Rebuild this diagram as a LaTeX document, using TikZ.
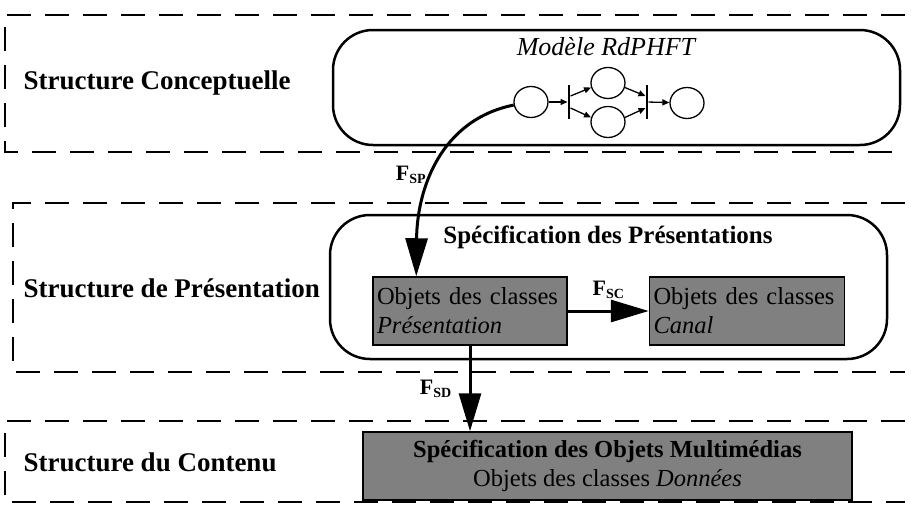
\documentclass[tikz,border=0pt]{standalone}
\usepackage{fontspec}
\setmainfont{Liberation Serif}
\usetikzlibrary{arrows.meta,positioning,shapes.geometric}
\tikzset{
  lane/.style ={draw=black,line width=2pt,dash pattern=on 24pt off 14pt},
  cont/.style ={draw=black,line width=2.5pt,rounded corners=40pt,inner sep=0pt},
  obj/.style  ={draw=black,line width=1.5pt,fill=black!50,align=left,inner sep=4pt,
                font=\fontsize{24.5}{29}\selectfont},
  lbl/.style  ={anchor=west,font=\fontsize{27}{30}\selectfont\bfseries},
  ttl/.style  ={font=\fontsize{25}{30}\selectfont},
  plc/.style  ={ellipse,draw=black,line width=1.3pt,minimum width=34pt,
                minimum height=31pt,inner sep=0pt},
  trn/.style  ={fill=black,minimum width=2.6pt,minimum height=34pt,inner sep=0pt},
  pa/.style   ={-{Triangle[length=7pt,width=6pt]},line width=1.3pt},
  a/.style    ={-{Triangle[length=38pt,width=22pt]},line width=3pt},
  fl/.style   ={font=\fontsize{22}{22}\selectfont\bfseries},
}
\newcommand{\flab}[1]{F\raisebox{-0.3ex}{\fontsize{14}{14}\selectfont #1}}

\begin{document}
\begin{tikzpicture}[x=1pt,y=-1pt]
  \useasboundingbox (0,0) rectangle (911,509);

  % --- the three structure bands ---
  \draw[lane] (905,15) -- (5,15) -- (5,152) -- (905,152);
  \draw[lane] (905,203) -- (13,203) -- (13,372) -- (905,372);
  \draw[lane] (905,421) -- (5,421) -- (5,502) -- (905,502);
  \node[lbl] (lconc) at (20,83)  {Structure Conceptuelle};
  \node[lbl] (lpres) at (20,288) {Structure de Présentation};
  \node[lbl] (lcont) at (20,462) {Structure du Contenu};

  % --- conceptual model ---
  \node[cont,minimum width=567pt,minimum height=115pt] (concept) at (616.5,87.5) {};
  \node[ttl] (model) at (606,47) {\fontsize{26}{30}\selectfont\itshape Modèle RdPHFT};
  \node[plc] (p1) at (531,102) {};
  \node[trn] (t1) at (569,102) {};
  \node[plc] (p2) at (608,83) {};
  \node[plc] (p3) at (608,122) {};
  \node[trn] (t2) at (647,102) {};
  \node[plc] (p4) at (687,103) {};
  \draw[pa] (p1) -- (t1);
  \draw[pa] ([yshift=6pt]t1.east) -- (p2.195);
  \draw[pa] ([yshift=-6pt]t1.east) -- (p3.165);
  \draw[pa] (p2.-15) -- ([yshift=6pt]t2.west);
  \draw[pa] (p3.15) -- ([yshift=-6pt]t2.west);
  \draw[pa] (t2) -- (p4);

  % --- presentation specification ---
  \node[cont,minimum width=557pt,minimum height=144pt] (prescont) at (608.5,287) {};
  \node[ttl] (spec) at (608,237) {\bfseries Spécification des Présentations};
  \node[obj,minimum width=194pt,minimum height=68pt,text width=186pt] (pres) at (470,311)
        {Objets des classes\\ \textit{Présentation}};
  \node[obj,minimum width=195pt,minimum height=68pt,text width=187pt,right=81pt of pres] (canal)
        {Objets des classes\\ \textit{Canal}};

  % --- content ---
  \node[obj,align=center,minimum width=489pt,minimum height=68pt] (donnees) at (607.5,466)
        {\textbf{Spécification des Objets Multimédias}\\ Objets des classes \textit{Données}};

  % arrows
  \draw[a] (p1.190) .. controls (440,120) and (417,190) .. ([xshift=44pt]pres.north west)
        node[pos=0.56,left=2pt,fl]{\flab{SP}};
  \draw[a] (pres.east) -- (canal.west) node[midway,above=8pt,fl]{\flab{SC}};
  \draw[a] (pres.south) -- (pres.south |- donnees.north) node[midway,left=14pt,fl]{\flab{SD}};
\end{tikzpicture}
\end{document}
